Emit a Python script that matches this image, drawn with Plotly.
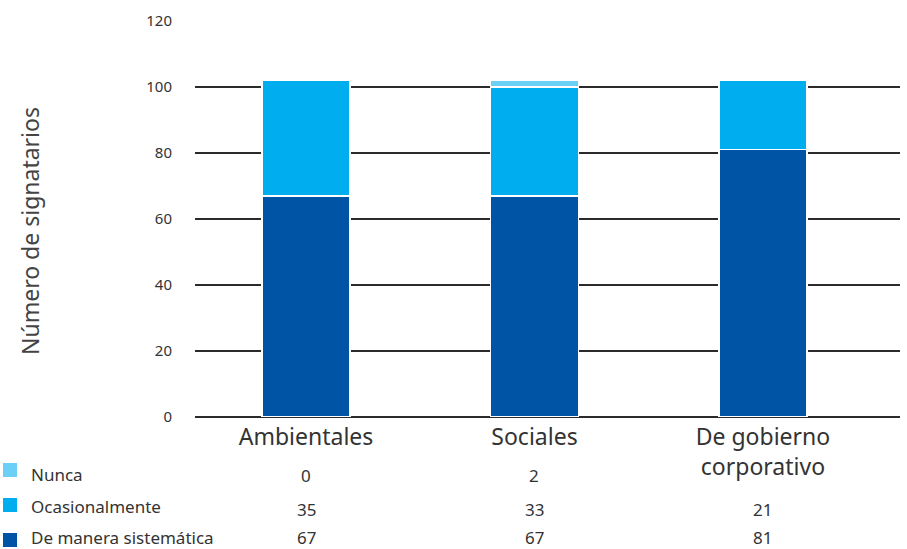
import plotly.graph_objects as go

# Data
categories = ["Ambientales", "Sociales", "De gobierno corporativo"]
category_labels = ["Ambientales", "Sociales", "De gobierno<br>corporativo"]
series_names = ["Nunca", "Ocasionalmente", "De manera sistemática"]
nunca = [0, 2, 0]
ocasionalmente = [35, 33, 21]
sistematica = [67, 67, 81]
y_ticks = [0, 20, 40, 60, 80, 100, 120]

colors = {
    "Nunca": "#6CCFF6",
    "Ocasionalmente": "#00AEEF",
    "De manera sistemática": "#0054A6",
}

FONT = "Noto Sans, Open Sans, sans-serif"
TEXT = "#333333"

# Figure geometry (pixels)
W, H = 907, 549
L, R, T, B = 195, 7, 21, 132
PW, PH = W - L - R, H - T - B


def px_to_paper(x, y):
    return (x - L) / PW, (H - B - y) / PH


fig = go.Figure()
stack = [("De manera sistemática", sistematica),
         ("Ocasionalmente", ocasionalmente),
         ("Nunca", nunca)]
for name, vals in stack:
    fig.add_trace(go.Bar(
        x=categories, y=vals, name=name,
        marker=dict(color=colors[name], line=dict(color="white", width=1.5)),
        width=0.385, showlegend=False, hoverinfo="name+y",
    ))

# Table rows under the chart: legend swatch, series name, values per category
# (name, values, label y, swatch y, value y) in pixels from the top
rows = [("Nunca", nunca, 474, 470, 475),
        ("Ocasionalmente", ocasionalmente, 506, 505, 509),
        ("De manera sistemática", sistematica, 537, 540, 537)]
for name, vals, label_y, swatch_y, value_y in rows:
    x0, y0 = px_to_paper(3, swatch_y - 7)
    x1, y1 = px_to_paper(17, swatch_y + 7)
    fig.add_shape(type="rect", xref="paper", yref="paper",
                  x0=x0, x1=x1, y0=y1, y1=y0,
                  fillcolor=colors[name], line=dict(width=0))
    lx, ly = px_to_paper(29, label_y)
    fig.add_annotation(xref="paper", yref="paper", x=lx, y=ly, text=name,
                       showarrow=False, xanchor="left", yanchor="middle",
                       font=dict(family=FONT, size=17, color=TEXT))
    for cat, v in zip(categories, vals):
        # the two-line category label occupies this cell of the first row
        if name == "Nunca" and cat == "De gobierno corporativo":
            continue
        _, vy = px_to_paper(0, value_y)
        fig.add_annotation(xref="x", yref="paper", x=cat, y=vy, text=str(v),
                           showarrow=False, xanchor="center", yanchor="middle",
                           font=dict(family=FONT, size=17, color=TEXT))

# Rotated y-axis title
tx, ty = px_to_paper(30, 231)
fig.add_annotation(xref="paper", yref="paper", x=tx, y=ty,
                   text="Número de signatarios", textangle=-90,
                   showarrow=False, xanchor="center", yanchor="middle",
                   font=dict(family=FONT, size=23, color="#444444"))

fig.update_layout(
    width=W, height=H,
    margin=dict(l=L, r=R, t=T, b=B),
    barmode="stack",
    plot_bgcolor="white", paper_bgcolor="white",
    font=dict(family=FONT, color=TEXT),
    xaxis=dict(
        type="category", range=[-0.486, 2.6],
        tickvals=categories, ticktext=category_labels,
        tickfont=dict(size=23, color=TEXT),
        showgrid=False, showline=False, ticks="", zeroline=False,
        ticklabelstandoff=4,
    ),
    yaxis=dict(
        range=[0, 120], tickvals=y_ticks,
        showgrid=True, gridcolor="#2b2b2b", gridwidth=1.5,
        zeroline=True, zerolinecolor="#2b2b2b", zerolinewidth=1.5,
        showline=False, ticks="",
        tickfont=dict(size=15, color=TEXT),
        ticklabelstandoff=22,
    ),
)

fig.write_html("out.html")
